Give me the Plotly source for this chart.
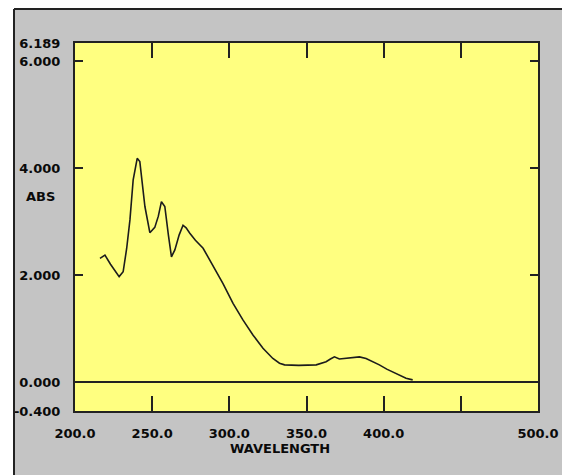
import plotly.graph_objects as go

# UV absorbance spectrum
wavelength = [216.2, 219.4, 223.0, 228.6, 231.2, 233.5, 235.6, 237.7, 240.3, 242.0,
              245.3, 248.5, 251.7, 254.0, 256.0, 258.2, 260.5, 262.5, 264.7, 267.5,
              270.0, 272.0, 274.4, 278.0, 283.0, 287.3, 289.4, 295.9, 302.4, 308.8,
              315.3, 321.8, 328.2, 332.5, 335.8, 345.0, 356.3, 360.0, 362.7, 365.5,
              368.1, 371.3, 375.7, 380.0, 384.3, 388.6, 393.0, 397.2, 402.0, 408.0,
              414.5, 418.8]
absorbance = [2.31, 2.37, 2.20, 1.97, 2.06, 2.50, 3.03, 3.78, 4.18, 4.12,
              3.28, 2.79, 2.89, 3.10, 3.37, 3.28, 2.75, 2.34, 2.47, 2.75,
              2.93, 2.88, 2.78, 2.65, 2.50, 2.28, 2.16, 1.84, 1.47, 1.16,
              0.88, 0.63, 0.44, 0.35, 0.32, 0.31, 0.32, 0.35, 0.38, 0.43,
              0.47, 0.43, 0.44, 0.45, 0.47, 0.44, 0.38, 0.32, 0.24, 0.16,
              0.07, 0.04]

x_tickvals = [200, 250, 300, 350, 400, 450, 500]
x_ticktext = ["200.0", "250.0", "300.0", "350.0", "400.0", "", "500.0"]
y_min, y_max = -0.542, 6.336
y_tickvals = [y_min, 0, 2, 4, 6, y_max]
y_ticktext = ["-0.400", "0.000", "2.000", "4.000", "6.000", "6.189"]

W, H = 562, 475
L, R, T, B = 75, 24, 43, 64
pw, ph = W - L - R, H - T - B


def px(x):
    return (x - L) / pw


def py(y):
    return (H - B - y) / ph


label_font = dict(family="DejaVu Sans", size=13, color="#0a0a0a", weight="bold")

fig = go.Figure()
fig.add_trace(go.Scatter(
    x=wavelength, y=absorbance, mode="lines",
    line=dict(color="#1c1c1c", width=1.6),
    showlegend=False, hoverinfo="skip",
))

fig.update_layout(
    width=W, height=H,
    margin=dict(l=L, r=R, t=T, b=B, pad=0, autoexpand=False),
    paper_bgcolor="#C4C4C4",
    plot_bgcolor="#FFFF80",
    xaxis=dict(
        range=[200, 500], tickvals=x_tickvals, ticktext=x_ticktext,
        ticks="inside", ticklen=15, tickwidth=2, tickcolor="#222222",
        showline=True, linecolor="#222222", linewidth=2, mirror="ticks",
        showgrid=False, zeroline=False, tickfont=label_font,
        ticklabelstandoff=9, automargin=False,
    ),
    yaxis=dict(
        range=[y_min, y_max], tickvals=y_tickvals, ticktext=y_ticktext,
        ticks="inside", ticklen=8, tickwidth=2, tickcolor="#222222",
        showline=True, linecolor="#222222", linewidth=2, mirror="ticks",
        showgrid=False, zeroline=True, zerolinecolor="#222222", zerolinewidth=2,
        tickfont=label_font, ticklabelstandoff=10, automargin=False,
    ),
    shapes=[
        # white margin strips outside the grey panel
        dict(type="rect", xref="paper", yref="paper", x0=px(0), x1=px(W),
             y0=py(9), y1=py(0), fillcolor="white", line_width=0, layer="below"),
        dict(type="rect", xref="paper", yref="paper", x0=px(0), x1=px(14),
             y0=py(H), y1=py(0), fillcolor="white", line_width=0, layer="below"),
        # panel border
        dict(type="line", xref="paper", yref="paper", x0=px(14), x1=px(W),
             y0=py(9), y1=py(9), line=dict(color="#222222", width=2)),
        dict(type="line", xref="paper", yref="paper", x0=px(14), x1=px(14),
             y0=py(9), y1=py(H), line=dict(color="#222222", width=2)),
    ],
    annotations=[
        dict(text="ABS", xref="paper", yref="paper", x=px(24), y=py(196),
             xanchor="left", yanchor="middle", showarrow=False, font=label_font),
        dict(text="WAVELENGTH", xref="paper", yref="paper", x=px(280), y=py(448),
             xanchor="center", yanchor="middle", showarrow=False, font=label_font),
    ],
)

fig.write_html("out.html")
